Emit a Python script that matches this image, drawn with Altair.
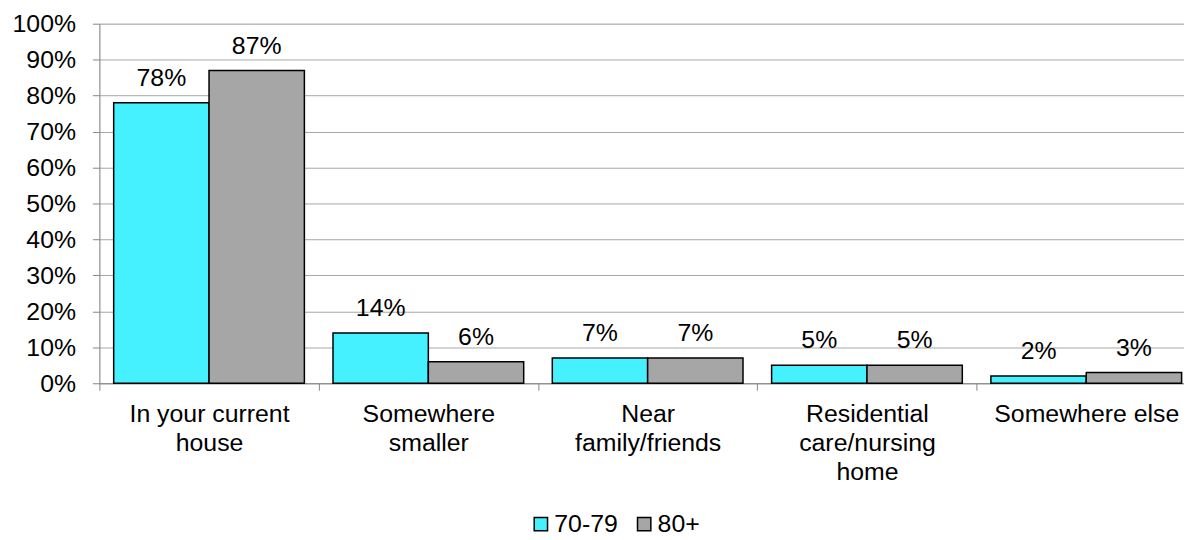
import altair as alt
import pandas as pd

categories = ["In your current|house", "Somewhere|smaller", "Near|family/friends",
              "Residential|care/nursing|home", "Somewhere else"]
series = ["70-79", "80+"]
values_7079 = [0.78, 0.14, 0.07, 0.05, 0.02]
values_80 = [0.87, 0.06, 0.07, 0.05, 0.03]
colors = ["#45F0FF", "#A6A6A6"]

rows = []
for i, c in enumerate(categories):
    rows.append({"cat": c, "series": series[0], "value": values_7079[i]})
    rows.append({"cat": c, "series": series[1], "value": values_80[i]})
df = pd.DataFrame(rows)

FONT = "Liberation Sans"
FS = 25

x = alt.X("cat:N", sort=categories, title=None,
          scale=alt.Scale(paddingInner=0, paddingOuter=0, range=[0, 1104]),
          axis=alt.Axis(labelAngle=0, labelExpr="split(datum.label, '|')",
                        labelFontSize=FS, labelFont=FONT, labelColor="black",
                        labelLineHeight=29, labelPadding=12, labelBaseline="top",
                        tickBand="extent", tickSize=7, tickColor="#868686",
                        domainColor="#868686", grid=False, labelLimit=400))
y = alt.Y("value:Q", title=None,
          scale=alt.Scale(domain=[0, 1]),
          axis=alt.Axis(values=[i / 10 for i in range(11)], format=".0%",
                        labelFontSize=FS, labelFont=FONT, labelColor="black",
                        labelPadding=17, tickSize=7, tickColor="#868686",
                        domainColor="#868686", gridColor="#A6A6A6", gridWidth=1))
xo = alt.XOffset("series:N", sort=series, scale=alt.Scale(paddingOuter=0.15, paddingInner=0))

bars = alt.Chart(df).mark_bar(stroke="black", strokeWidth=1.5).encode(
    x=x, y=y, xOffset=xo,
    color=alt.Color("series:N", sort=series,
                    scale=alt.Scale(domain=series, range=colors),
                    legend=alt.Legend(title=None, orient="none", direction="horizontal",
                                      legendX=432, legendY=491,
                                      symbolType="square", symbolSize=180,
                                      symbolStrokeColor="black", symbolStrokeWidth=1.5,
                                      labelFontSize=FS, labelFont=FONT, labelColor="black",
                                      columnPadding=14, labelOffset=1)),
)

labels = alt.Chart(df).mark_text(fontSize=FS, font=FONT, color="black",
                                 baseline="alphabetic", dy=-17).encode(
    x=x, y=y, xOffset=xo, text=alt.Text("value:Q", format=".0%"))

chart = (bars + labels).properties(
    width=1092, height=362,
    autosize=alt.AutoSizeParams(type="none"),
    padding={"left": 92, "top": 14, "right": 0, "bottom": 156},
).configure_view(stroke=None).configure(background="white")

chart.save("out.html", embed_options={"renderer": "svg", "actions": False})
